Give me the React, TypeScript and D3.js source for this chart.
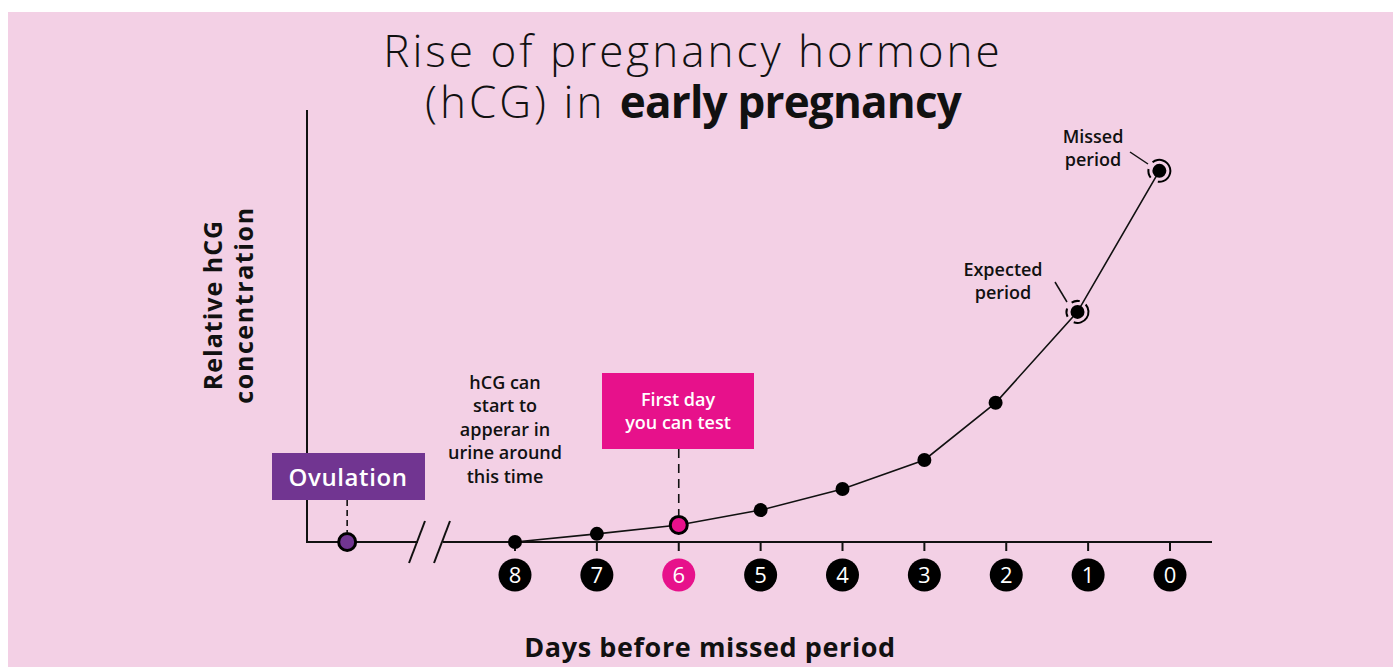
import React, { useRef, useEffect } from "react";
import * as d3 from "d3";

// days before missed period, shown as numbered ticks
const dayTicks = [8, 7, 6, 5, 4, 3, 2, 1, 0];
// where each reading sits on the day axis (last three drawn slightly early)
const pointDays = [8, 7, 6, 5, 4, 3, 2.13, 1.13, 0.13];
// relative hCG concentration (missed period = 100)
const hcgValues = [0, 2.2, 4.6, 8.6, 14.3, 22.1, 37.5, 62, 100];
const ovulationDay = 10.05;
const annotationLines = ["hCG can", "start to", "apperar in", "urine around", "this time"];

const BG = "#f3d0e5";
const PURPLE = "#713591";
const MAGENTA = "#e7118b";
const FONT = "'Open Sans', Lato, sans-serif";

function App() {
  const ref = useRef(null);

  useEffect(() => {
    d3.select(ref.current).select("svg").remove();

    const width = 1394,
      height = 667;

    const svg = d3
      .select(ref.current)
      .append("svg")
      .attr("width", width)
      .attr("height", height)
      .style("position", "absolute")
      .style("left", 0)
      .style("top", 0);

    svg
      .append("rect")
      .attr("x", 8)
      .attr("y", 12)
      .attr("width", 1385)
      .attr("height", 655)
      .attr("fill", BG);

    const x = d3.scaleLinear().domain([8, 0]).range([515, 1170]);
    const y = d3.scaleLinear().domain([0, 116.4]).range([542, 110]);
    const x0 = 307;
    const y0 = y(0);

    // title
    svg
      .append("text")
      .attr("x", 693)
      .attr("y", 67)
      .attr("text-anchor", "middle")
      .attr("font-family", FONT)
      .attr("font-size", 44)
      .attr("font-weight", 300)
      .attr("letter-spacing", 3)
      .attr("fill", "#111")
      .text("Rise of pregnancy hormone");
    const t2 = svg
      .append("text")
      .attr("x", 693)
      .attr("y", 118)
      .attr("text-anchor", "middle")
      .attr("font-family", FONT)
      .attr("font-size", 44)
      .attr("fill", "#111");
    t2.append("tspan").attr("font-weight", 300).attr("letter-spacing", 3).text("(hCG) in ");
    t2.append("tspan").attr("font-weight", 700).attr("letter-spacing", -0.8).text("early pregnancy");

    // axes
    const axis = svg.append("g").attr("stroke", "#111").attr("stroke-width", 2).attr("fill", "none");
    axis
      .append("path")
      .attr("d", `M${x0},${y(116.4)}V${y0}H${x0 + 111}`);
    axis.append("path").attr("d", `M${x0 + 136},${y0}H1212`);
    axis.append("line").attr("x1", 425).attr("y1", 521).attr("x2", 409).attr("y2", 563);
    axis.append("line").attr("x1", 450).attr("y1", 521).attr("x2", 434).attr("y2", 563);

    // ticks
    axis
      .selectAll(".tick")
      .data(dayTicks)
      .enter()
      .append("line")
      .attr("x1", d => x(d))
      .attr("x2", d => x(d))
      .attr("y1", y0)
      .attr("y2", y0 + 9);

    const badges = svg
      .selectAll(".badge")
      .data(dayTicks)
      .enter()
      .append("g")
      .attr("transform", d => `translate(${x(d)},${y0 + 33})`);
    badges
      .append("circle")
      .attr("r", 16.5)
      .attr("fill", d => (d === 6 ? MAGENTA : "#000"));
    badges
      .append("text")
      .attr("text-anchor", "middle")
      .attr("dy", 8)
      .attr("font-family", FONT)
      .attr("font-size", 22)
      .attr("fill", "#fff")
      .text(d => d);

    // axis titles
    svg
      .append("text")
      .attr("x", 710)
      .attr("y", 657)
      .attr("text-anchor", "middle")
      .attr("font-family", FONT)
      .attr("font-weight", 700)
      .attr("font-size", 27)
      .attr("letter-spacing", 0.6)
      .attr("fill", "#111")
      .text("Days before missed period");

    const yTitle = svg
      .append("text")
      .attr("transform", "translate(0,305) rotate(-90)")
      .attr("text-anchor", "middle")
      .attr("font-family", FONT)
      .attr("font-weight", 700)
      .attr("font-size", 25)
      .attr("letter-spacing", 1)
      .attr("fill", "#111");
    yTitle.append("tspan").attr("x", 0).attr("y", 222).text("Relative hCG");
    yTitle.append("tspan").attr("x", 0).attr("y", 253).attr("letter-spacing", 1.6).text("concentration");

    // curve
    const pts = pointDays.map((d, i) => [x(d), y(hcgValues[i])]);
    svg
      .append("path")
      .attr("d", d3.line()(pts))
      .attr("fill", "none")
      .attr("stroke", "#111")
      .attr("stroke-width", 1.6);

    // dashed guides
    const ovX = x(ovulationDay);
    svg
      .append("line")
      .attr("x1", ovX)
      .attr("x2", ovX)
      .attr("y1", 500)
      .attr("y2", y0 - 10)
      .attr("stroke", "#111")
      .attr("stroke-width", 1.6)
      .attr("stroke-dasharray", "6,4");
    svg
      .append("line")
      .attr("x1", x(6))
      .attr("x2", x(6))
      .attr("y1", 449)
      .attr("y2", y(hcgValues[2]) - 10)
      .attr("stroke", "#111")
      .attr("stroke-width", 1.6)
      .attr("stroke-dasharray", "9,6");

    // points
    svg
      .selectAll(".pt")
      .data(pts)
      .enter()
      .append("circle")
      .attr("cx", d => d[0])
      .attr("cy", d => d[1])
      .attr("r", (d, i) => (i === 2 ? 8.5 : 7))
      .attr("fill", (d, i) => (i === 2 ? MAGENTA : "#000"))
      .attr("stroke", "#000")
      .attr("stroke-width", (d, i) => (i === 2 ? 3 : 0));

    svg
      .append("circle")
      .attr("cx", ovX)
      .attr("cy", y0)
      .attr("r", 8.5)
      .attr("fill", PURPLE)
      .attr("stroke", "#000")
      .attr("stroke-width", 3);

    // broken rings around period points
    const ring = d3.arc().innerRadius(10).outerRadius(12);
    const deg = Math.PI / 180;
    const ringGaps = [
      { i: 7, arcs: [[-32, 12], [48, 200], [244, 288]] },
      { i: 8, arcs: [[-38, 188], [232, 280]] }
    ];
    ringGaps.forEach(r => {
      const g = svg.append("g").attr("transform", `translate(${pts[r.i][0]},${pts[r.i][1]})`);
      r.arcs.forEach(a => {
        g.append("path")
          .attr("d", ring({ startAngle: a[0] * deg, endAngle: a[1] * deg }))
          .attr("fill", "#000");
      });
    });

    // leader lines
    svg
      .append("line")
      .attr("x1", 1130).attr("y1", 152).attr("x2", 1148).attr("y2", 164)
      .attr("stroke", "#111").attr("stroke-width", 1.5);
    svg
      .append("line")
      .attr("x1", 1055).attr("y1", 282).attr("x2", 1067).attr("y2", 302)
      .attr("stroke", "#111").attr("stroke-width", 1.5);

    const label = (lines, cx, cy, size, color, weight, spacing = 0) => {
      const t = svg
        .append("text")
        .attr("text-anchor", "middle")
        .attr("font-family", FONT)
        .attr("font-weight", weight)
        .attr("font-size", size)
        .attr("letter-spacing", spacing)
        .attr("fill", color);
      lines.forEach((l, k) => {
        t.append("tspan").attr("x", cx).attr("y", cy + k * size * 1.3).text(l);
      });
    };

    label(["Missed", "period"], 1093, 143, 18, "#111", 600);
    label(["Expected", "period"], 1003, 276, 18, "#111", 600);
    label(annotationLines, 505, 389, 18, "#111", 600);

    // boxes
    svg.append("rect").attr("x", 272).attr("y", 453).attr("width", 153).attr("height", 47).attr("fill", PURPLE);
    label(["Ovulation"], 348, 486, 24, "#fff", 600, 0.6);

    svg.append("rect").attr("x", 602).attr("y", 373).attr("width", 152).attr("height", 76).attr("fill", MAGENTA);
    label(["First day", "you can test"], 678, 406, 18, "#fff", 600);
  }, []);

  return <div ref={ref}></div>;
}

export default App;
